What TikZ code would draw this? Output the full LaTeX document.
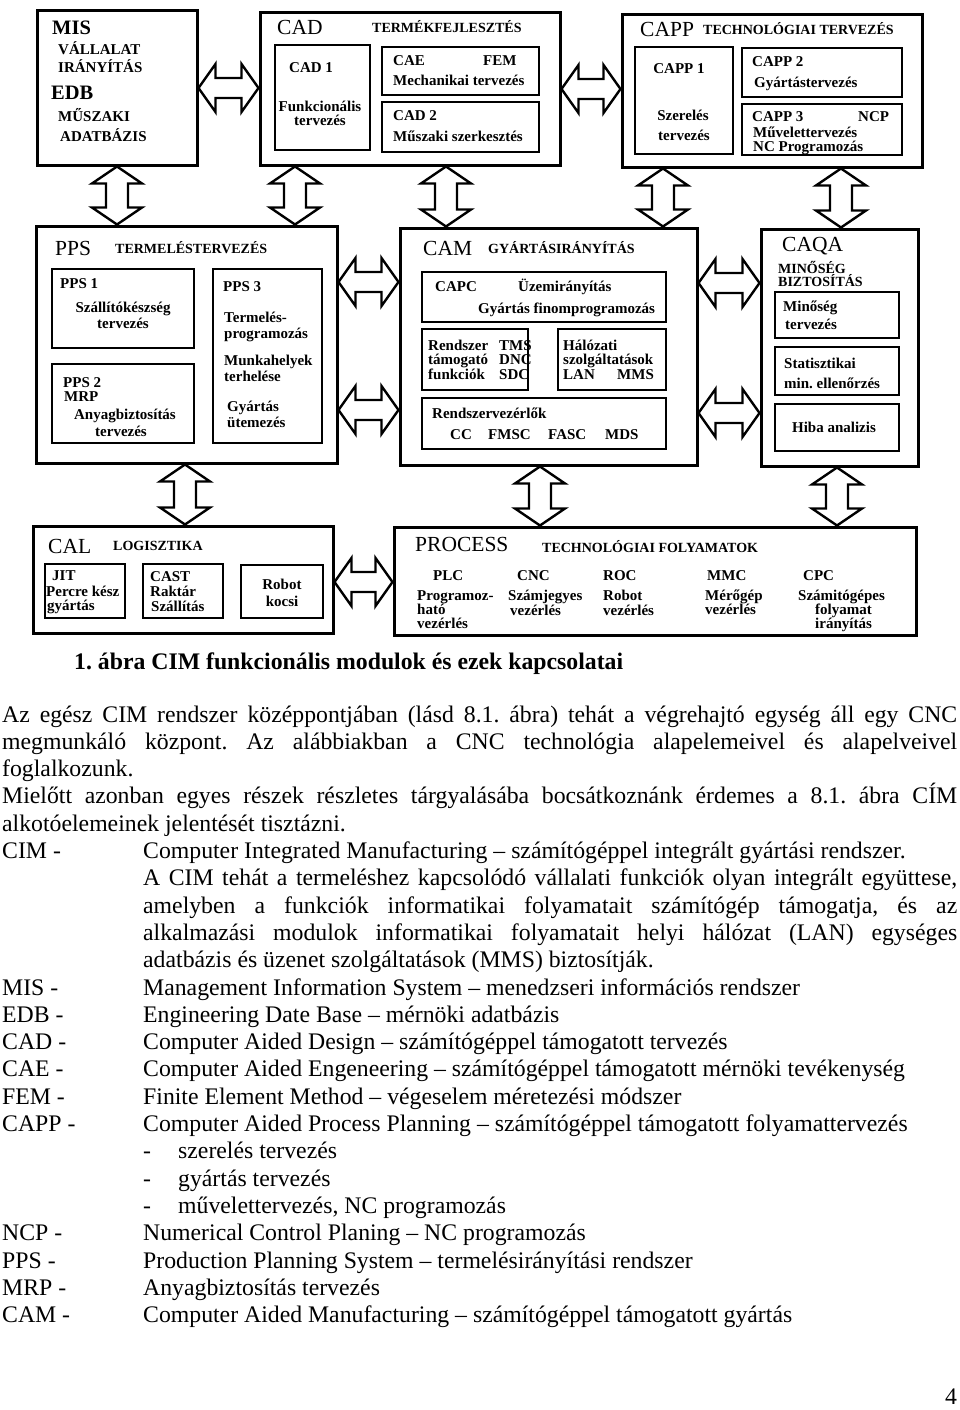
\documentclass[tikz,border=0pt]{standalone}
\usepackage{fontspec}
\setmainfont{Liberation Serif}
\usetikzlibrary{calc,fit}
\frenchspacing
\begin{document}
\begin{tikzpicture}[x=1pt,y=-1pt,
  obox/.style={draw, line width=3pt, inner sep=0pt},
  ibox/.style={draw, line width=2.4pt, inner sep=0pt},
  tl/.style={inner sep=0pt, anchor=base west, font=\fontsize{21.5}{21.5}\selectfont},
  tlb/.style={inner sep=0pt, anchor=base west, font=\bfseries\fontsize{20.5}{20.5}\selectfont},
  hd/.style={inner sep=0pt, anchor=base west, font=\bfseries\fontsize{14}{14}\selectfont},
  tx/.style={inner sep=0pt, anchor=base west, font=\bfseries\fontsize{15}{15}\selectfont},
  txc/.style={tx, anchor=base},
  body/.style={inner sep=0pt, anchor=base west, font=\fontsize{23.75}{27.3}\selectfont},
  harrow/.style={draw, line width=2.4pt, line join=miter, fill=white,
    to path={let \p1=(\tikztostart), \p2=(\tikztotarget) in
      -- (\x1+17,\y1+24) -- (\x1+17,\y1+10) -- (\x2-17,\y1+10) -- (\x2-17,\y1+24)
      -- (\x2,\y1) -- (\x2-17,\y1-24) -- (\x2-17,\y1-10) -- (\x1+17,\y1-10)
      -- (\x1+17,\y1-24) -- cycle}},
  varrow/.style={draw, line width=2.4pt, line join=miter, fill=white,
    to path={let \p1=(\tikztostart), \p2=(\tikztotarget) in
      -- (\x1+25,\y1-17) -- (\x1+11,\y1-17) -- (\x1+11,\y2+17) -- (\x1+25,\y2+17)
      -- (\x1,\y2) -- (\x1-25,\y2+17) -- (\x1-11,\y2+17) -- (\x1-11,\y1-17)
      -- (\x1-25,\y1-17) -- cycle}}
]
\useasboundingbox (0,0) rectangle (960,1410);

% ---------------- MIS ----------------
\node[obox, fit={(37,11) (197,165)}] (mis) {};
\node[tlb] (misT) at (52,35) {MIS};
\node[tx] (misA) at (58,55) {VÁLLALAT};
\node[tx] (misB) at (58,73) {IRÁNYÍTÁS};
\node[tlb] (edbT) at (51,100) {EDB};
\node[tx] (misC) at (58,122) {MŰSZAKI};
\node[tx] (misD) at (60,142) {ADATBÁZIS};

% ---------------- CAD ----------------
\node[obox, fit={(260,13) (560,165)}] (cad) {};
\node[tl] (cadT) at (277,35) {CAD};
\node[hd] (cadH) at (372,33) {TERMÉKFEJLESZTÉS};
\node[ibox, fit={(275,45) (370,150)}] (cad1) {};
\node[tx] (cad1a) at (289,73) {CAD 1};
\node[txc] (cad1b) at (320,112) {Funkcionális};
\node[txc] (cad1c) at (320,126) {tervezés};
\node[ibox, fit={(382,47) (539,95)}] (cae) {};
\node[tx] (caeA) at (393,66) {CAE};
\node[tx] (caeB) at (483,66) {FEM};
\node[tx] (caeC) at (393,86) {Mechanikai tervezés};
\node[ibox, fit={(382,102) (539,152)}] (cad2) {};
\node[tx] (cad2a) at (393,121) {CAD 2};
\node[tx] (cad2b) at (393,142) {Műszaki szerkesztés};

% ---------------- CAPP ----------------
\node[obox, fit={(622,15) (922,167)}] (capp) {};
\node[tl] (cappT) at (640,37) {CAPP};
\node[hd] (cappH) at (703,35) {TECHNOLÓGIAI TERVEZÉS};
\node[ibox, fit={(635,47) (733,154)}] (capp1) {};
\node[txc] (capp1a) at (679,74) {CAPP 1};
\node[txc] (capp1b) at (683,121) {Szerelés};
\node[txc] (capp1c) at (684,140) {tervezés};
\node[ibox, fit={(742,48) (902,97)}] (capp2) {};
\node[tx] (capp2a) at (752,67) {CAPP 2};
\node[tx] (capp2b) at (754,88) {Gyártástervezés};
\node[ibox, fit={(742,104) (902,155)}] (capp3) {};
\node[tx] (capp3a) at (752,122) {CAPP 3};
\node[tx] (capp3b) at (858,122) {NCP};
\node[tx] (capp3c) at (753,137) {Művelettervezés};
\node[tx] (capp3d) at (753,151) {NC Programozás};

% ---------------- PPS ----------------
\node[obox, fit={(36,226) (337,463)}] (pps) {};
\node[tl] (ppsT) at (55,255) {PPS};
\node[hd] (ppsH) at (115,253) {TERMELÉSTERVEZÉS};
\node[ibox, fit={(52,269) (194,348)}] (pps1) {};
\node[tx] (pps1a) at (60,288) {PPS 1};
\node[txc] (pps1b) at (123,312) {Szállítókészség};
\node[txc] (pps1c) at (123,328) {tervezés};
\node[ibox, fit={(52,364) (194,443)}] (pps2) {};
\node[tx] (pps2a) at (63,387) {PPS 2};
\node[tx] (pps2b) at (64,401) {MRP};
\node[txc] (pps2c) at (125,419) {Anyagbiztosítás};
\node[txc] (pps2d) at (121,436) {tervezés};
\node[ibox, fit={(213,269) (322,443)}] (pps3) {};
\node[tx] (pps3a) at (223,291) {PPS 3};
\node[tx] (pps3b) at (224,322) {Termelés-};
\node[tx] (pps3c) at (224,338) {programozás};
\node[tx] (pps3d) at (224,365) {Munkahelyek};
\node[tx] (pps3e) at (224,381) {terhelése};
\node[tx] (pps3f) at (227,411) {Gyártás};
\node[tx] (pps3g) at (227,427) {ütemezés};

% ---------------- CAM ----------------
\node[obox, fit={(400,228) (697,465)}] (cam) {};
\node[tl] (camT) at (423,255) {CAM};
\node[hd] (camH) at (488,253) {GYÁRTÁSIRÁNYÍTÁS};
\node[ibox, fit={(422,272) (666,322)}] (capc) {};
\node[tx] (capcA) at (435,291) {CAPC};
\node[tx] (capcB) at (518,291) {Üzemirányítás};
\node[tx] (capcC) at (478,313) {Gyártás finomprogramozás};
\node[ibox, fit={(422,329) (528,390)}] (rend) {};
\node[tx] (rendA) at (428,350) {Rendszer};
\node[tx] (rendB) at (428,364) {támogató};
\node[tx] (rendC) at (428,379) {funkciók};
\node[tx] (rendD) at (499,350) {TMS};
\node[tx] (rendE) at (499,364) {DNC};
\node[tx] (rendF) at (499,379) {SDC};
\node[ibox, fit={(558,329) (666,390)}] (hal) {};
\node[tx] (halA) at (563,350) {Hálózati};
\node[tx] (halB) at (563,364) {szolgáltatások};
\node[tx] (halC) at (563,379) {LAN};
\node[tx] (halD) at (617,379) {MMS};
\node[ibox, fit={(422,398) (666,449)}] (rvez) {};
\node[tx] (rvezA) at (432,418) {Rendszervezérlők};
\node[tx] (rvezB) at (450,439) {CC};
\node[tx] (rvezC) at (488,439) {FMSC};
\node[tx] (rvezD) at (548,439) {FASC};
\node[tx] (rvezE) at (605,439) {MDS};

% ---------------- CAQA ----------------
\node[obox, fit={(761,229) (918,466)}] (caqa) {};
\node[tl] (caqaT) at (782,251) {CAQA};
\node[hd] (caqaA) at (778,273) {MINŐSÉG};
\node[hd] (caqaB) at (778,286) {BIZTOSÍTÁS};
\node[ibox, fit={(775,292) (899,338)}] (q1) {};
\node[tx] (q1a) at (783,311) {Minőség};
\node[tx] (q1b) at (785,329) {tervezés};
\node[ibox, fit={(775,347) (899,395)}] (q2) {};
\node[tx] (q2a) at (784,368) {Statisztikai};
\node[tx] (q2b) at (784,388) {min. ellenőrzés};
\node[ibox, fit={(775,404) (899,451)}] (q3) {};
\node[txc] (q3a) at (834,432) {Hiba analizis};

% ---------------- CAL ----------------
\node[obox, fit={(33,526) (333,633)}] (cal) {};
\node[tl] (calT) at (48,553) {CAL};
\node[hd] (calH) at (113,550) {LOGISZTIKA};
\node[ibox, fit={(45,564) (125,618)}] (jit) {};
\node[tx] (jitA) at (52,580) {JIT};
\node[tx] (jitB) at (46,596) {Percre kész};
\node[tx] (jitC) at (47,610) {gyártás};
\node[ibox, fit={(143,564) (223,618)}] (cast) {};
\node[tx] (castA) at (150,581) {CAST};
\node[tx] (castB) at (150,596) {Raktár};
\node[tx] (castC) at (151,611) {Szállítás};
\node[ibox, fit={(241,565) (323,618)}] (robk) {};
\node[txc] (robkA) at (282,589) {Robot};
\node[txc] (robkB) at (282,606) {kocsi};

% ---------------- PROCESS ----------------
\node[obox, fit={(394,527) (916,635)}] (proc) {};
\node[tl] (procT) at (415,551) {PROCESS};
\node[hd] (procH) at (542,552) {TECHNOLÓGIAI FOLYAMATOK};
\node[tx] (plc) at (433,580) {PLC};
\node[tx] (plcA) at (417,600) {Programoz-};
\node[tx] (plcB) at (417,614) {ható};
\node[tx] (plcC) at (417,628) {vezérlés};
\node[tx] (cnc) at (517,580) {CNC};
\node[tx] (cncA) at (508,600) {Számjegyes};
\node[tx] (cncB) at (510,615) {vezérlés};
\node[tx] (roc) at (603,580) {ROC};
\node[tx] (rocA) at (603,600) {Robot};
\node[tx] (rocB) at (603,615) {vezérlés};
\node[tx] (mmc) at (707,580) {MMC};
\node[tx] (mmcA) at (705,600) {Mérőgép};
\node[tx] (mmcB) at (705,614) {vezérlés};
\node[tx] (cpc) at (803,580) {CPC};
\node[tx] (cpcA) at (798,600) {Számitógépes};
\node[tx] (cpcB) at (815,614) {folyamat};
\node[tx] (cpcC) at (815,628) {irányítás};

% ---------------- arrows ----------------
\draw[harrow] (mis.east |- 0,88) to (cad.west |- 0,88);
\draw[harrow] (cad.east |- 0,89) to (capp.west |- 0,89);
\draw[harrow] (pps.east |- 0,282) to (cam.west |- 0,282);
\draw[harrow] (pps.east |- 0,410) to (cam.west |- 0,410);
\draw[harrow] (cam.east |- 0,283) to (caqa.west |- 0,283);
\draw[harrow] (cam.east |- 0,413) to (caqa.west |- 0,413);
\draw[harrow] (cal.east |- 0,582) to (proc.west |- 0,582);
\draw[varrow] (mis.south -| 117,0) to (pps.north -| 117,0);
\draw[varrow] (cad.south -| 295,0) to (pps.north -| 295,0);
\draw[varrow] (cad.south -| 446,0) to (cam.north -| 446,0);
\draw[varrow] (capp.south -| 663,0) to (cam.north -| 663,0);
\draw[varrow] (capp.south -| 841,0) to (caqa.north -| 841,0);
\draw[varrow] (pps.south -| 185,0) to (cal.north -| 185,0);
\draw[varrow] (cam.south -| 540,0) to (proc.north -| 540,0);
\draw[varrow] (caqa.south -| 837,0) to (proc.north -| 837,0);

% ---------------- caption and text ----------------
\node[body, font=\bfseries\fontsize{23.75}{27.3}\selectfont] (cap) at (74,669) {1. ábra CIM funkcionális modulok és ezek kapcsolatai};

\node[body] (l0) at (2,722.0) {\hbox to 955pt{Az egész CIM rendszer középpontjában (lásd 8.1. ábra) tehát a végrehajtó egység áll egy CNC}};
\node[body] (l1) at (2,749.3) {\hbox to 955pt{megmunkáló központ. Az alábbiakban a CNC technológia alapelemeivel és alapelveivel}};
\node[body] (l2) at (2,776.6) {foglalkozunk.};
\node[body] (l3) at (2,803.9) {\hbox to 955pt{Mielőtt azonban egyes részek részletes tárgyalásába bocsátkoznánk érdemes a 8.1. ábra CÍM}};
\node[body] (l4) at (2,831.2) {alkotóelemeinek jelentését tisztázni.};
\node[body] (l5a) at (2,858.5) {CIM -};
\node[body] (l5b) at (143,858.5) {Computer Integrated Manufacturing – számítógéppel integrált gyártási rendszer.};
\node[body] (l6) at (143,885.8) {\hbox to 814pt{A CIM tehát a termeléshez kapcsolódó vállalati funkciók olyan integrált együttese,}};
\node[body] (l7) at (143,913.1) {\hbox to 814pt{amelyben a funkciók informatikai folyamatait számítógép támogatja, és az}};
\node[body] (l8) at (143,940.4) {\hbox to 814pt{alkalmazási modulok informatikai folyamatait helyi hálózat (LAN) egységes}};
\node[body] (l9) at (143,967.7) {adatbázis és üzenet szolgáltatások (MMS) biztosítják.};
\node[body] (l10a) at (2,995.0) {MIS -};
\node[body] (l10b) at (143,995.0) {Management Information System – menedzseri információs rendszer};
\node[body] (l11a) at (2,1022.3) {EDB -};
\node[body] (l11b) at (143,1022.3) {Engineering Date Base – mérnöki adatbázis};
\node[body] (l12a) at (2,1049.6) {CAD -};
\node[body] (l12b) at (143,1049.6) {Computer Aided Design – számítógéppel támogatott tervezés};
\node[body] (l13a) at (2,1076.9) {CAE -};
\node[body] (l13b) at (143,1076.9) {Computer Aided Engeneering – számítógéppel támogatott mérnöki tevékenység};
\node[body] (l14a) at (2,1104.2) {FEM -};
\node[body] (l14b) at (143,1104.2) {Finite Element Method – végeselem méretezési módszer};
\node[body] (l15a) at (2,1131.5) {CAPP -};
\node[body] (l15b) at (143,1131.5) {Computer Aided Process Planning – számítógéppel támogatott folyamattervezés};
\node[body] (l16a) at (143,1158.8) {-};
\node[body] (l16b) at (178,1158.8) {szerelés tervezés};
\node[body] (l17a) at (143,1186.1) {-};
\node[body] (l17b) at (178,1186.1) {gyártás tervezés};
\node[body] (l18a) at (143,1213.4) {-};
\node[body] (l18b) at (178,1213.4) {művelettervezés, NC programozás};
\node[body] (l19a) at (2,1240.7) {NCP -};
\node[body] (l19b) at (143,1240.7) {Numerical Control Planing – NC programozás};
\node[body] (l20a) at (2,1268.0) {PPS -};
\node[body] (l20b) at (143,1268.0) {Production Planning System – termelésirányítási rendszer};
\node[body] (l21a) at (2,1295.3) {MRP -};
\node[body] (l21b) at (143,1295.3) {Anyagbiztosítás tervezés};
\node[body] (l22a) at (2,1322.6) {CAM -};
\node[body] (l22b) at (143,1322.6) {Computer Aided Manufacturing – számítógéppel támogatott gyártás};
\node[body] (pg) at (945,1404) {4};
\end{tikzpicture}
\end{document}
